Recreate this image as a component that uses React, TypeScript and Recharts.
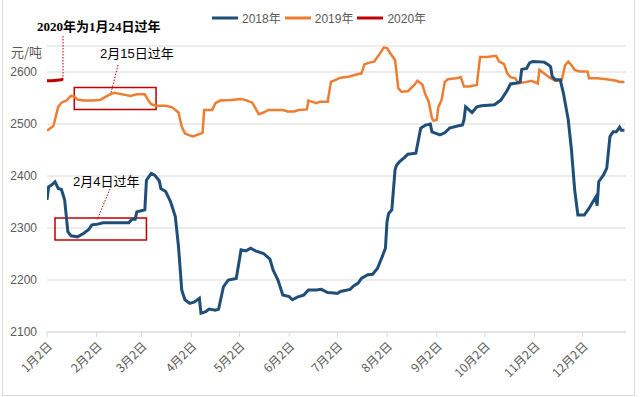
import React from "react";
import { LineChart, Line, XAxis, YAxis, CartesianGrid, ReferenceArea } from "recharts";

// day index: 0 = 1月2日
const monthTicks = [0, 31, 59, 90, 120, 151, 181, 212, 243, 273, 304, 334];
const monthLabels = ["1月2日", "2月2日", "3月2日", "4月2日", "5月2日", "6月2日", "7月2日", "8月2日", "9月2日", "10月2日", "11月2日", "12月2日"];
const yTicks = [2100, 2200, 2300, 2400, 2500, 2600];

const seriesNames = ["2018年", "2019年", "2020年"];
const seriesColors = ["#1F4E79", "#ED7D31", "#C00000"];

const days2018 = [0, 1, 3, 5, 7, 9, 11, 13, 15, 19, 23, 26, 28, 31, 35, 51, 53, 55, 56, 61, 62, 65, 67, 70, 71, 74, 77, 80, 82, 84, 86, 89, 92, 95, 96, 99, 101, 105, 107, 110, 113, 118, 121, 124, 127, 130, 135, 139, 141, 144, 147, 151, 153, 156, 160, 163, 168, 171, 175, 179, 181, 183, 189, 191, 194, 196, 200, 203, 206, 209, 211, 212, 213, 215, 217, 218, 220, 223, 225, 230, 232, 233, 236, 239, 240, 245, 248, 251, 256, 259, 260, 261, 265, 268, 271, 279, 283, 287, 289, 293, 295, 296, 299, 301, 303, 310, 313, 314, 315, 317, 320, 322, 325, 327, 329, 331, 335, 338, 342, 343, 344, 347, 349, 351, 353, 355, 357, 358, 360];
const values2018 = [2354, 2379, 2383, 2389, 2376, 2374, 2354, 2293, 2285, 2283, 2290, 2297, 2306, 2307, 2310, 2310, 2317, 2317, 2331, 2335, 2392, 2405, 2402, 2391, 2376, 2370, 2351, 2322, 2264, 2181, 2162, 2155, 2158, 2165, 2136, 2139, 2144, 2142, 2144, 2187, 2200, 2203, 2258, 2256, 2261, 2256, 2251, 2240, 2219, 2200, 2171, 2168, 2162, 2167, 2171, 2181, 2181, 2182, 2176, 2175, 2174, 2178, 2182, 2188, 2194, 2203, 2210, 2211, 2222, 2245, 2261, 2312, 2328, 2335, 2412, 2421, 2428, 2436, 2442, 2444, 2476, 2492, 2498, 2500, 2485, 2479, 2483, 2492, 2496, 2498, 2508, 2533, 2522, 2533, 2535, 2537, 2546, 2565, 2577, 2579, 2581, 2605, 2607, 2618, 2620, 2619, 2613, 2610, 2591, 2585, 2585, 2559, 2508, 2450, 2373, 2325, 2325, 2338, 2359, 2343, 2389, 2402, 2415, 2476, 2485, 2485, 2494, 2488, 2488];

const days2019 = [0, 2, 4, 7, 9, 12, 15, 17, 19, 23, 28, 33, 37, 40, 42, 47, 52, 56, 61, 63, 65, 68, 74, 78, 82, 84, 86, 88, 91, 97, 98, 103, 105, 108, 115, 121, 124, 128, 130, 132, 135, 138, 147, 150, 154, 157, 162, 163, 165, 168, 170, 175, 177, 180, 183, 188, 194, 196, 198, 201, 204, 207, 210, 212, 214, 217, 219, 221, 225, 229, 231, 234, 236, 238, 240, 241, 243, 244, 246, 248, 250, 255, 258, 260, 263, 268, 270, 274, 280, 282, 285, 287, 289, 292, 294, 299, 302, 306, 307, 310, 314, 317, 321, 323, 325, 327, 329, 332, 337, 338, 343, 349, 355, 357, 360];
const values2019 = [2487, 2492, 2496, 2533, 2541, 2545, 2554, 2553, 2547, 2545, 2545, 2546, 2553, 2558, 2560, 2557, 2554, 2557, 2557, 2546, 2538, 2535, 2535, 2532, 2522, 2495, 2482, 2479, 2476, 2483, 2527, 2527, 2540, 2545, 2546, 2548, 2546, 2541, 2530, 2519, 2522, 2527, 2527, 2524, 2524, 2527, 2528, 2545, 2543, 2540, 2543, 2543, 2581, 2585, 2589, 2591, 2596, 2597, 2615, 2618, 2620, 2633, 2647, 2646, 2636, 2623, 2569, 2562, 2563, 2575, 2583, 2576, 2556, 2543, 2511, 2506, 2508, 2533, 2546, 2581, 2586, 2588, 2590, 2572, 2572, 2575, 2629, 2629, 2631, 2620, 2615, 2597, 2590, 2588, 2578, 2581, 2583, 2578, 2604, 2597, 2588, 2583, 2585, 2613, 2620, 2613, 2604, 2601, 2601, 2588, 2588, 2586, 2583, 2581, 2581];

const days2020 = [0, 3, 6, 9, 10];
const values2020 = [2583, 2583, 2584, 2585, 2587];

const toRows = (days: number[], vals: number[]) => days.map((d, i) => ({ day: d, v: vals[i] }));
const data2018 = toRows(days2018, values2018);
const data2019 = toRows(days2019, values2019);
const data2020 = toRows(days2020, values2020);

const labelFont = "'Liberation Sans', 'Noto Sans CJK SC', sans-serif";
const cjkFont = "'Noto Sans CJK SC', sans-serif";

const MonthTick = (props: any) => {
  const { x, y, payload } = props;
  const idx = monthTicks.indexOf(payload.value);
  const tx = x + 3;
  const ty = y + 5;
  return (
    <text x={tx} y={ty} dy="0.35em" textAnchor="end" fill="#595959" fontSize={12} fontFamily={cjkFont} transform={`rotate(-45, ${tx}, ${ty})`}>
      {idx >= 0 ? monthLabels[idx] : ""}
    </text>
  );
};

export default function App() {
  return (
    <div style={{ position: "relative", width: 640, height: 397, background: "#fff", overflow: "hidden" }}>
      <style>{"body{margin:0}"}</style>
      <LineChart width={640} height={397} margin={{ top: 46, right: 14, bottom: 5, left: 0 }}>
        <CartesianGrid vertical={false} stroke="#d9d9d9" />
        <XAxis
          type="number"
          dataKey="day"
          domain={[0, 361]}
          ticks={monthTicks}
          interval={0}
          height={60}
          axisLine={{ stroke: "#d9d9d9" }}
          tickLine={{ stroke: "#d9d9d9" }}
          tickSize={5}
          tick={<MonthTick />}
          allowDataOverflow
        />
        <YAxis
          type="number"
          domain={[2100, 2650]}
          ticks={yTicks}
          width={47}
          axisLine={false}
          tickLine={false}
          tickMargin={4}
          tick={{ fill: "#595959", fontSize: 12, fontFamily: labelFont }}
          allowDataOverflow
        />
        <ReferenceArea x1={17} x2={68} y1={2528} y2={2570} fill="none" stroke="#C00000" strokeWidth={1.5} fillOpacity={0} ifOverflow="visible" />
        <ReferenceArea x1={5} x2={62} y1={2277} y2={2319} fill="none" stroke="#C00000" strokeWidth={1.5} fillOpacity={0} ifOverflow="visible" />
        <Line data={data2019} dataKey="v" name={seriesNames[1]} stroke={seriesColors[1]} strokeWidth={2.5} dot={false} isAnimationActive={false} />
        <Line data={data2018} dataKey="v" name={seriesNames[0]} stroke={seriesColors[0]} strokeWidth={3} dot={false} isAnimationActive={false} />
        <Line data={data2020} dataKey="v" name={seriesNames[2]} stroke={seriesColors[2]} strokeWidth={3} dot={false} isAnimationActive={false} />
      </LineChart>

      <svg width={640} height={397} style={{ position: "absolute", left: 0, top: 0, pointerEvents: "none" }}>
        <rect x={2.5} y={-2} width={632} height={397.5} fill="none" stroke="#d9d9d9" strokeWidth={1} />
        <text x={37} y={26} dy="0.35em" fontSize={13} fontWeight="bold" fontFamily="'Liberation Serif', 'Noto Sans CJK SC', serif" fill="#000">2020年为1月24日过年</text>
        <line x1={63} y1={36} x2={63} y2={79} stroke="#C00000" strokeWidth={1} strokeDasharray="1.5 1.5" />
        <text x={11} y={52} dy="0.35em" fontSize={13} fontFamily={cjkFont} fill="#595959">元/吨</text>
        <text x={100} y={53} dy="0.35em" fontSize={13} fontFamily={labelFont} fill="#000">2月15日过年</text>
        <line x1={118} y1={65} x2={111} y2={93} stroke="#C00000" strokeWidth={1} strokeDasharray="1.5 1.5" />
        <text x={73} y={181} dy="0.35em" fontSize={13} fontFamily={labelFont} fill="#000">2月4日过年</text>
        <line x1={110} y1={189} x2={97} y2={220} stroke="#C00000" strokeWidth={1} strokeDasharray="1.5 1.5" />
      </svg>

      <div style={{ position: "absolute", left: 212, top: 9, display: "flex", alignItems: "center", fontSize: 12, fontFamily: labelFont, color: "#595959", whiteSpace: "nowrap" }}>
        {seriesNames.map((n, i) => (
          <span key={n} style={{ display: "inline-flex", alignItems: "center", marginRight: 4 }}>
            <svg width={26} height={16} style={{ marginRight: 4 }}>
              <line x1={0} y1={8} x2={26} y2={8} stroke={seriesColors[i]} strokeWidth={3} />
            </svg>
            <span>{n}</span>
          </span>
        ))}
      </div>
    </div>
  );
}
